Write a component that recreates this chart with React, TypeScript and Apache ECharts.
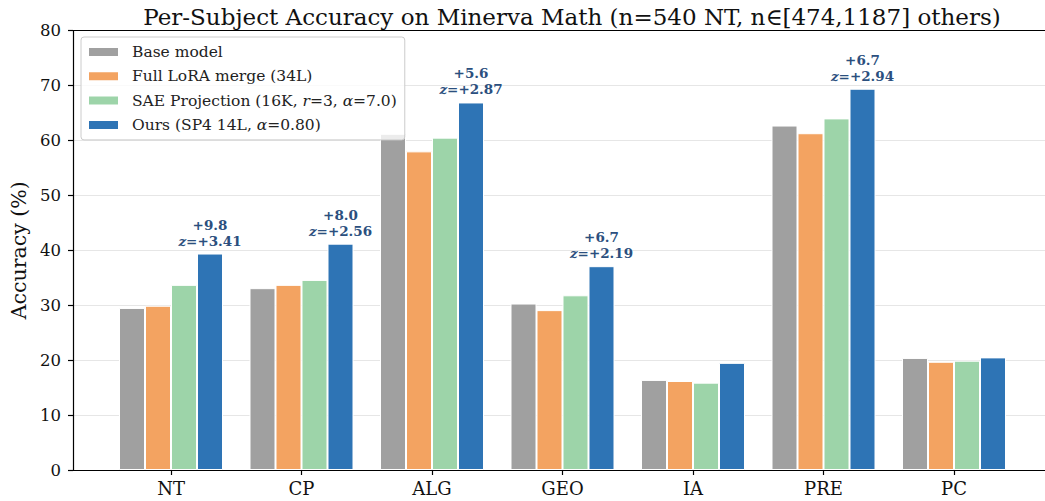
import React, { useEffect, useRef } from "react";
import * as echarts from "echarts";

const categories = ["NT", "CP", "ALG", "GEO", "IA", "PRE", "PC"];
const baseModel = [29.5, 33.1, 61.2, 30.3, 16.4, 62.7, 20.4];
const loraMerge = [29.9, 33.7, 58.0, 29.1, 16.2, 61.3, 19.7];
const saeProj = [33.7, 34.6, 60.5, 31.8, 15.9, 64.0, 19.9];
const ours = [39.4, 41.2, 66.9, 37.1, 19.5, 69.4, 20.5];
const deltas = ["+9.8", "+8.0", "+5.6", "+6.7", null, "+6.7", null];
const zScores = ["+3.41", "+2.56", "+2.87", "+2.19", null, "+2.94", null];
const yTicks = [0, 10, 20, 30, 40, 50, 60, 70, 80];

const seriesNames = [
  "Base model",
  "Full LoRA merge (34L)",
  "SAE Projection (16K, r=3, α=7.0)",
  "Ours (SP4 14L, α=0.80)",
];
const colors = ["#a0a0a0", "#f3a361", "#9dd4a9", "#2e74b5"];

const FONT = "DejaVu Serif";

export default function App() {
  const ref = useRef<HTMLDivElement>(null);
  useEffect(() => {
    document.body.style.margin = "0";
    if (!ref.current) return;
    const chart = echarts.init(ref.current, null, { renderer: "svg" });
    const dataSets = [baseModel, loraMerge, saeProj, ours];
    const plotLeft = 72;
    const plotTop = 30.5;
    const plotHeight = 439.5;
    const catW = 130.5;
    const firstCenter = 171;
    const barLeft = firstCenter - catW / 2;

    const series: any[] = dataSets.map((d, si) => ({
      type: "bar",
      name: seriesNames[si],
      xAxisIndex: 2,
      yAxisIndex: 1,
      barWidth: 26,
      barGap: "0%",
      itemStyle: { color: colors[si], borderColor: "#ffffff", borderWidth: 1 },
      data: d.map((v, i) => {
        if (si === 3 && deltas[i]) {
          return {
            value: v,
            label: {
              show: true,
              position: "top",
              distance: 5,
              formatter: `{b|${deltas[i]}}\n{zi|z}{b|=${zScores[i]}}`,
              rich: {
                b: { fontFamily: FONT, fontSize: 13.5, fontWeight: "bold", color: "#2b4f7e", lineHeight: 16 },
                zi: { fontFamily: FONT, fontSize: 13.5, fontWeight: "bold", fontStyle: "italic", color: "#2b4f7e", lineHeight: 16 },
              },
              align: "center",
            },
          };
        }
        return v;
      }),
      animation: false,
    }));

    const legendRich = {
      a: { fontFamily: FONT, fontSize: 15.5, color: "#222", lineHeight: 18 },
      i: { fontFamily: FONT, fontSize: 15.5, fontStyle: "italic", color: "#222", lineHeight: 18 },
    };

    chart.setOption({
      animation: false,
      title: {
        text: "Per-Subject Accuracy on Minerva Math (n=540 NT, n∈[474,1187] others)",
        left: 567,
        top: 0,
        textAlign: "center",
        textStyle: { fontFamily: FONT, fontSize: 23, fontWeight: "normal", color: "#111" },
      },
      legend: {
        orient: "vertical",
        left: 81,
        top: 37,
        padding: [6, 8, 6, 6],
        itemWidth: 31,
        itemHeight: 10,
        itemGap: 6.3,
        backgroundColor: "rgba(255,255,255,0.8)",
        borderColor: "#cccccc",
        borderWidth: 1,
        borderRadius: 3,
        icon: "rect",
        data: seriesNames,
        textStyle: { fontFamily: FONT, fontSize: 15.5, color: "#222", lineHeight: 18, padding: [0, 0, 0, 8], rich: legendRich },
        formatter: (name: string) => {
          if (name === seriesNames[2]) return "{a|SAE Projection (16K, }{i|r}{a|=3, }{i|α}{a|=7.0)}";
          if (name === seriesNames[3]) return "{a|Ours (SP4 14L, }{i|α}{a|=0.80)}";
          return `{a|${name}}`;
        },
      },
      grid: [
        { left: plotLeft, top: plotTop, width: 985, height: plotHeight },
        { left: barLeft, top: plotTop, width: catW * categories.length, height: plotHeight },
      ],
      xAxis: [
        {
          type: "value", gridIndex: 0, position: "bottom", min: 0, max: 1,
          axisLine: { show: true, lineStyle: { color: "#000", width: 1.2 } },
          axisTick: { show: false }, axisLabel: { show: false }, splitLine: { show: false },
        },
        {
          type: "value", gridIndex: 0, position: "top", min: 0, max: 1,
          axisLine: { show: true, lineStyle: { color: "#000", width: 1.2 } },
          axisTick: { show: false }, axisLabel: { show: false }, splitLine: { show: false },
        },
        {
          type: "category", gridIndex: 1, position: "bottom", data: categories,
          axisLine: { show: false },
          axisTick: { show: true, alignWithLabel: true, length: 5, lineStyle: { color: "#000", width: 1.2 } },
          axisLabel: { margin: 9, fontFamily: FONT, fontSize: 18, color: "#111" },
          splitLine: { show: false },
        },
      ],
      yAxis: [
        {
          type: "value", gridIndex: 0, min: 0, max: 80, interval: 10,
          name: "Accuracy (%)", nameLocation: "middle", nameGap: 44,
          nameTextStyle: { fontFamily: FONT, fontSize: 20.5, color: "#111" },
          axisLine: { show: true, lineStyle: { color: "#000", width: 1.2 } },
          axisTick: { show: true, length: 5, lineStyle: { color: "#000", width: 1.2 } },
          axisLabel: {
            margin: 12, fontFamily: FONT, fontSize: 16.5, color: "#111",
            formatter: (v: number) => (yTicks.includes(v) ? String(v) : ""),
          },
          splitLine: { show: true, lineStyle: { color: "#e6e6e6", width: 1 } },
        },
        {
          type: "value", gridIndex: 1, min: 0, max: 80, interval: 10, show: false,
          splitLine: { show: false },
        },
      ],
      series,
    });
    return () => chart.dispose();
  }, []);
  return <div ref={ref} style={{ width: 1045, height: 501 }} />;
}
